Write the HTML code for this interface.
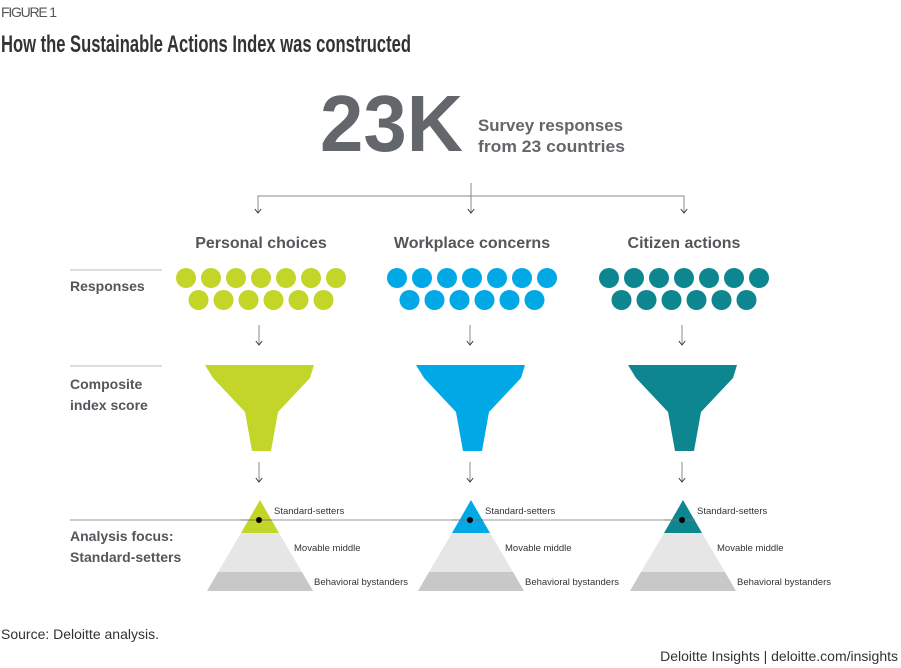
<!DOCTYPE html>
<html><head><meta charset="utf-8"><style>
html,body{margin:0;padding:0;background:#fff;}
svg{display:block;font-family:"Liberation Sans",sans-serif;}
</style></head><body>
<svg width="901" height="668" viewBox="0 0 901 668">
<defs><marker id="ah" viewBox="0 0 10 10" refX="5" refY="9" markerWidth="8" markerHeight="8" orient="0" markerUnits="userSpaceOnUse"><path d="M1,4 L5,9 L9,4" fill="none" stroke="#333" stroke-width="1.2"/></marker></defs>
<text x="1" y="17" font-size="14" fill="#53565A" textLength="56">FIGURE 1</text>
<text x="1" y="52" font-size="24" font-weight="bold" fill="#333" textLength="410" lengthAdjust="spacingAndGlyphs">How the Sustainable Actions Index was constructed</text>
<text x="320" y="151" font-size="80" font-weight="bold" fill="#63666A" textLength="143" lengthAdjust="spacingAndGlyphs">23K</text>
<text font-size="17" font-weight="bold" fill="#63666A"><tspan x="478" y="131" textLength="145" lengthAdjust="spacingAndGlyphs">Survey responses</tspan><tspan x="478" y="152" textLength="147" lengthAdjust="spacingAndGlyphs">from 23 countries</tspan></text>
<g stroke="#888" fill="none" stroke-width="1">
<line x1="471" y1="183" x2="471" y2="213" marker-end="url(#ah)"/>
<polyline points="258,213 258,196 684,196 684,213"/>
<line x1="258" y1="196" x2="258" y2="213" marker-end="url(#ah)"/>
<line x1="684" y1="196" x2="684" y2="213" marker-end="url(#ah)"/>
</g>
<g font-size="14" font-weight="bold" fill="#53565A">
<line x1="70" y1="270" x2="162" y2="270" stroke="#bbb"/>
<line x1="70" y1="366" x2="162" y2="366" stroke="#bbb"/>
<text x="70" y="291">Responses</text>
<text x="70" y="389">Composite</text><text x="70" y="410">index score</text>
<text x="70" y="541">Analysis focus:</text><text x="70" y="562">Standard-setters</text>
</g>
<line x1="70" y1="520" x2="684" y2="520" stroke="#999" stroke-width="1"/>
<g id="cols"></g>
<text x="1" y="639" font-size="14" fill="#333">Source: Deloitte analysis.</text>
<text x="898" y="661" font-size="14" fill="#333" text-anchor="end">Deloitte Insights | deloitte.com/insights</text>
</svg>
<script>
const categories=["Personal choices","Workplace concerns","Citizen actions"];
const colors=["#C4D52A","#00A8E6","#0E8690"];
const centers=[261,472,684];
const ns="http://www.w3.org/2000/svg";
const g=document.getElementById('cols');
function mk(t,a,p){const e=document.createElementNS(ns,t);for(const k in a)e.setAttribute(k,a[k]);(p||g).appendChild(e);return e;}
categories.forEach((c,i)=>{
 const cx=centers[i],col=colors[i];
 const grp=mk('g',{});
 
 
 const t=mk('text',{x:cx,y:248,'font-size':16,'font-weight':'bold',fill:'#53565A','text-anchor':'middle'},grp);t.textContent=c;
 
 
 for(let k=0;k<7;k++){const d=mk('circle',{cx:cx-75+25*k,cy:278,r:10,fill:col},grp);
  
  }
 for(let k=0;k<6;k++){const d=mk('circle',{cx:cx-62.5+25*k,cy:300,r:10,fill:col},grp);
  
  }
 mk('line',{x1:cx-2,y1:325,x2:cx-2,y2:345,stroke:'#888','marker-end':'url(#ah)'},grp);
 const f=mk('polygon',{points:[[-56,365],[53,365],[49,378],[17,412],[10,451],[-9,451],[-16,412],[-48,378]].map(p=>(cx+p[0])+','+p[1]).join(' '),fill:col},grp);
 
 
 mk('line',{x1:cx-2,y1:462,x2:cx-2,y2:482,stroke:'#888','marker-end':'url(#ah)'},grp);
 const a=cx-1;
 const p1=mk('polygon',{points:`${a-53},591 ${a+53},591 ${a+42},572 ${a-42},572`,fill:'#C8C8C8'},grp);
 
 
 const p2=mk('polygon',{points:`${a-42},572 ${a+42},572 ${a+19},533 ${a-19},533`,fill:'#E6E6E6'},grp);
 
 
 const p3=mk('polygon',{points:`${a-19},533 ${a+19},533 ${a},500`,fill:col},grp);
 
 
 mk('line',{x1:a-19,y1:520,x2:a+12,y2:520,stroke:'#777'},grp);
 mk('circle',{cx:a-1,cy:520,r:3,fill:'#000'},grp);
 [["Standard-setters",14,514],["Movable middle",34,551],["Behavioral bystanders",54,585]].forEach(l=>{
  const e=mk('text',{x:a+l[1],y:l[2],'font-size':9.5,fill:'#333'},grp);e.textContent=l[0];
  
  });
});
</script>
</body></html>
